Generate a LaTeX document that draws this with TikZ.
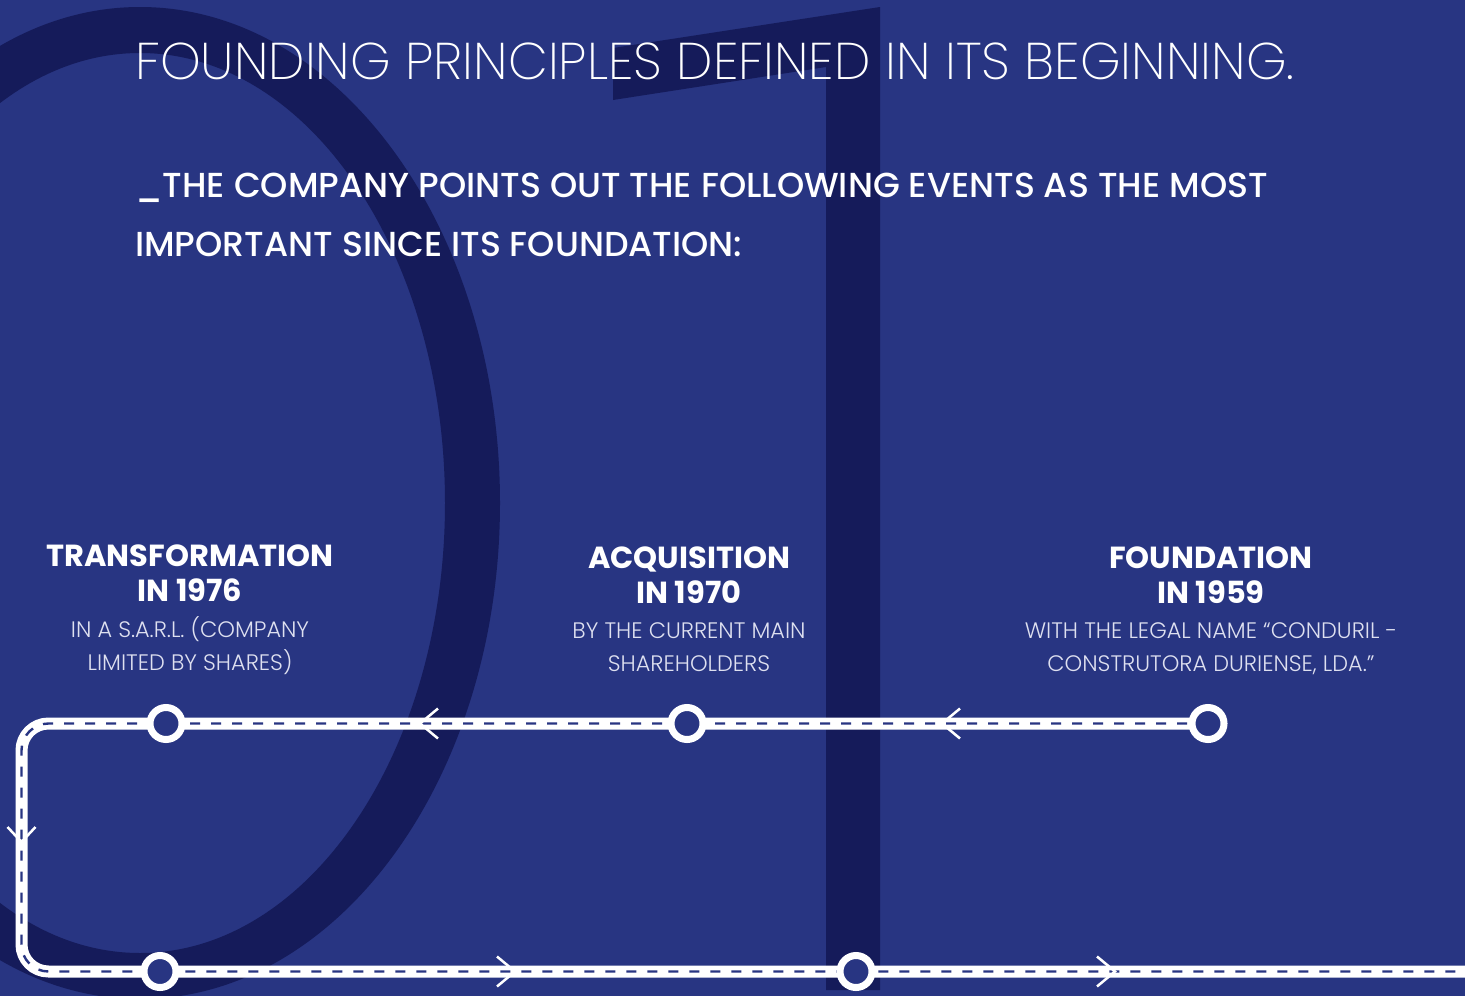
\documentclass[tikz,border=0pt]{standalone}
\usepackage{fontspec}
\usetikzlibrary{calc}

% Type faces: a geometric sans in several weights, with fall-backs
\IfFontExistsTF{Poppins ExtraLight}{\newfontfamily\fthin{Poppins ExtraLight}}{%
  \IfFontExistsTF{Poppins Light}{\newfontfamily\fthin{Poppins Light}}{\newfontfamily\fthin{Poppins}}}
\IfFontExistsTF{Poppins Light}{\newfontfamily\flight{Poppins Light}}{\newfontfamily\flight{Poppins}}
\IfFontExistsTF{Poppins Medium}{\newfontfamily\fmed{Poppins Medium}}{\newfontfamily\fmed{Poppins}}
\IfFontExistsTF{Poppins Bold}{\newfontfamily\fbold{Poppins Bold}}{\newfontfamily\fbold{Poppins}[FakeBold=2]}

\definecolor{bgblue}{RGB}{40,53,130}
\definecolor{deepblue}{RGB}{21,27,90}
\definecolor{softwhite}{RGB}{222,224,240}

\tikzset{
  title/.style={text=white, inner sep=0pt, anchor=base west, font=\fthin\fontsize{51.7}{52}\selectfont},
  subtitle/.style={text=white, inner sep=0pt, anchor=base west, font=\fmed\fontsize{34.7}{35}\selectfont},
  event/.style={text=white, inner sep=0pt, anchor=base, font=\fbold\fontsize{30.5}{31}\selectfont},
  detail/.style={text=softwhite, inner sep=0pt, anchor=base, font=\flight\fontsize{22.4}{23}\selectfont},
  track/.style={white, line width=12pt, rounded corners=27pt},
  trackdash/.style={bgblue, line width=2.4pt, dash pattern=on 10pt off 11pt, rounded corners=27pt},
  stop/.style={circle, draw=white, line width=7pt, fill=bgblue, minimum size=32pt, inner sep=0pt},
  chev/.style={white, line width=2.5pt},
}

\begin{document}
\begin{tikzpicture}[x=1pt, y=-1pt]
  \useasboundingbox (0,0) rectangle (1465,996);
  \fill[bgblue] (0,0) rectangle (1465,996);

  % large "01" watermark
  \begin{scope}
    \clip (0,0) rectangle (1465,996);
    \fill[deepblue, even odd rule]
      (140,503) ellipse [x radius=360, y radius=496]
      (140,503) ellipse [x radius=305, y radius=450];
    \fill[deepblue] (613,48) -- (880,7) -- (880,990) -- (826,990) -- (826,67) -- (613,100) -- cycle;
  \end{scope}

  % headings
  \node[title] (head) at (135,79) {FOUNDING PRINCIPLES DEFINED IN ITS BEGINNING.};
  \node[subtitle] (sub1) at (135,197) {\_THE COMPANY POINTS OUT THE FOLLOWING EVENTS AS THE MOST};
  \node[subtitle] (sub2) at (135,256) {IMPORTANT SINCE ITS FOUNDATION:};

  % event labels
  \node[event] (e76a) at (190,566) {TRANSFORMATION};
  \node[event] (e76b) at (190,601) {IN 1976};
  \node[detail] (e76c) at (190,637) {IN A S.A.R.L. (COMPANY};
  \node[detail] (e76d) at (190,670) {LIMITED BY SHARES)};

  \node[event] (e70a) at (689,568) {ACQUISITION};
  \node[event] (e70b) at (689,603) {IN 1970};
  \node[detail] (e70c) at (689,638) {BY THE CURRENT MAIN};
  \node[detail] (e70d) at (689,671) {SHAREHOLDERS};

  \node[event] (e59a) at (1211,568) {FOUNDATION};
  \node[event] (e59b) at (1211,603) {IN 1959};
  \node[detail] (e59c) at (1211,638) {WITH THE LEGAL NAME “CONDURIL -};
  \node[detail] (e59d) at (1211,671) {CONSTRUTORA DURIENSE, LDA.”};

  % stop positions on the track
  \coordinate (p59) at (1208,723.5);
  \coordinate (p70) at (687,723.5);
  \coordinate (p76) at (166,723.5);
  \coordinate (pb1) at (160,971.5);
  \coordinate (pb2) at (856,971.5);
  \coordinate (ctop) at (21.5,723.5);
  \coordinate (cbot) at (21.5,971.5);
  \coordinate (tend) at (1465,971.5);

  % track
  \draw[track] (p59) -- (ctop) -- (cbot) -- (tend);
  \draw[trackdash] (p59) -- (ctop) -- (cbot) -- (tend);

  % direction marks
  \coordinate (a1) at (942,723.5);
  \coordinate (a2) at (420,723.5);
  \coordinate (a3) at (21.5,842);
  \coordinate (a4) at (515,971.5);
  \coordinate (a5) at (1115,971.5);
  \draw[chev] ([shift={(18,-15)}]a1) -- (a1) -- ([shift={(18,15)}]a1);
  \draw[chev] ([shift={(18,-15)}]a2) -- (a2) -- ([shift={(18,15)}]a2);
  \draw[chev] ([shift={(-14,-15)}]a3) -- (a3) -- ([shift={(14,-15)}]a3);
  \draw[chev] ([shift={(-18,-15)}]a4) -- (a4) -- ([shift={(-18,15)}]a4);
  \draw[chev] ([shift={(-18,-15)}]a5) -- (a5) -- ([shift={(-18,15)}]a5);

  % stops
  \node[stop] (s59) at (p59) {};
  \node[stop] (s70) at (p70) {};
  \node[stop] (s76) at (p76) {};
  \node[stop] (sb1) at (pb1) {};
  \node[stop] (sb2) at (pb2) {};
\end{tikzpicture}
\end{document}
